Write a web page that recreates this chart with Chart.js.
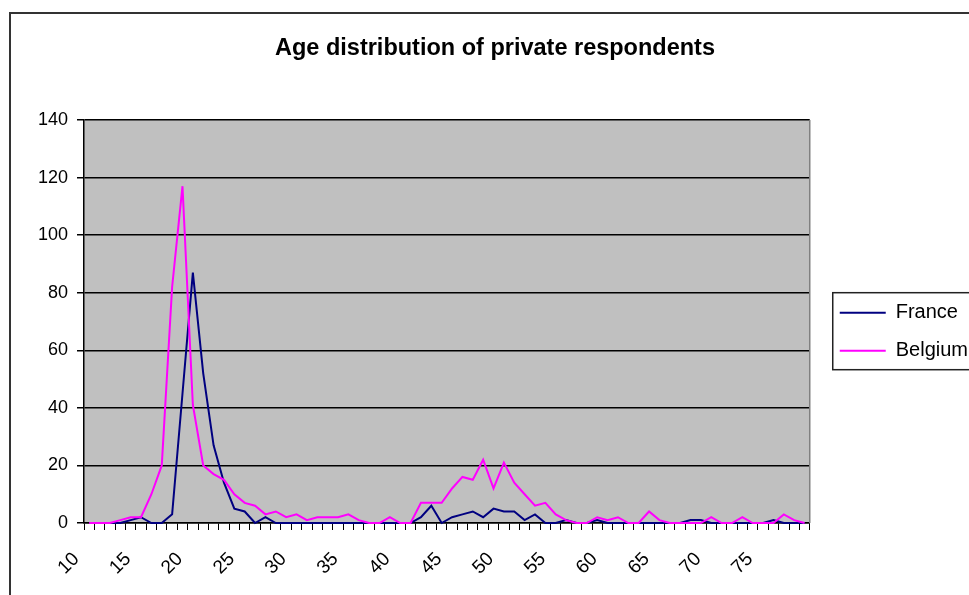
<!DOCTYPE html>
<html>
<head>
<meta charset="utf-8">
<title>Age distribution of private respondents</title>
<script src="https://cdn.jsdelivr.net/npm/chart.js@4.4.1/dist/chart.umd.min.js"></script>
<style>
    html, body { margin: 0; padding: 0; background: #fff; overflow: hidden; }
    #frame {
        position: absolute; left: 9px; top: 12px; width: 1000px; height: 700px;
        border-left: 2px solid #333; border-top: 2px solid #333;
    }
    #wrap { position: absolute; left: 12px; top: 0; width: 966px; height: 595px; }
</style>
</head>
<body>
<div id="frame"></div>
<div id="wrap"><canvas id="ageChart" width="966" height="595"></canvas></div>
<script>
    // ages on the category axis
    var ages = [10, 11, 12, 13, 14, 15, 16, 17, 18, 19,
                20, 21, 22, 23, 24, 25, 26, 27, 28, 29,
                30, 31, 32, 33, 34, 35, 36, 37, 38, 39,
                40, 41, 42, 43, 44, 45, 46, 47, 48, 49,
                50, 51, 52, 53, 54, 55, 56, 57, 58, 59,
                60, 61, 62, 63, 64, 65, 66, 67, 68, 69,
                70, 71, 72, 73, 74, 75, 76, 77, 78, 79];

    // number of respondents per age
    var france = [0, 0, 0, 0, 1, 2, 0, 0, 3, 45,
                  87, 52, 27, 14, 5, 4, 0, 2, 0, 0,
                  0, 0, 0, 0, 0, 0, 0, 0, 0, 0,
                  0, 0, 2, 6, 0, 2, 3, 4, 2, 5,
                  4, 4, 1, 3, 0, 0, 1, 0, 0, 1,
                  0, 0, 0, 0, 0, 0, 0, 0, 1, 1,
                  0, 0, 0, 0, 0, 0, 1, 0, 0, 0];

    var belgium = [0, 0, 0, 1, 2, 2, 10, 20, 82, 117,
                   41, 20, 17, 15, 10, 7, 6, 3, 4, 2,
                   3, 1, 2, 2, 2, 3, 1, 0, 0, 2,
                   0, 0, 7, 7, 7, 12, 16, 15, 22, 12,
                   21, 14, 10, 6, 7, 3, 1, 0, 0, 2,
                   1, 2, 0, 0, 4, 1, 0, 0, 0, 0,
                   2, 0, 0, 2, 0, 0, 0, 3, 1, 0];

    var seriesNames = ['France', 'Belgium'];
    var seriesColors = ['#000080', '#FF00FF'];

    var yMin = 0;
    var yMax = 140;
    var yStep = 20;
    var labelEvery = 5;

    var fontFamily = "'Liberation Sans', Arial, Helvetica, sans-serif";

    // grey plot background, grey right edge and the box round the legend
    var plotDecor = {
        id: 'plotDecor',
        beforeDraw: function(chart) {
            var a = chart.chartArea;
            var ctx = chart.ctx;
            ctx.save();
            ctx.fillStyle = '#C0C0C0';
            ctx.fillRect(a.left, a.top, a.right - a.left, a.bottom - a.top);
            ctx.restore();
        },
        afterDraw: function(chart) {
            var a = chart.chartArea;
            var ctx = chart.ctx;
            ctx.save();
            ctx.strokeStyle = '#808080';
            ctx.lineWidth = 1.5;
            ctx.beginPath();
            ctx.moveTo(a.right, a.top);
            ctx.lineTo(a.right, a.bottom);
            ctx.stroke();

            var hb = chart.legend.legendHitBoxes;
            if (hb && hb.length) {
                var first = hb[0], last = hb[hb.length - 1];
                var top = first.top - 10;
                var bottom = last.top + last.height + 9;
                ctx.strokeStyle = '#222';
                ctx.lineWidth = 1.5;
                ctx.strokeRect(first.left - 7, top, chart.width, bottom - top);
            }
            ctx.restore();
        }
    };

    var ctx = document.getElementById('ageChart').getContext('2d');
    var ageChart = new Chart(ctx, {
        type: 'line',
        data: {
            labels: ages,
            datasets: [{
                label: seriesNames[0],
                data: france,
                borderColor: seriesColors[0],
                backgroundColor: seriesColors[0],
                borderWidth: 2,
                pointRadius: 0,
                tension: 0,
                clip: false,
                order: 1
            }, {
                label: seriesNames[1],
                data: belgium,
                borderColor: seriesColors[1],
                backgroundColor: seriesColors[1],
                borderWidth: 2,
                pointRadius: 0,
                tension: 0,
                clip: false,
                order: 0
            }]
        },
        options: {
            responsive: false,
            animation: false,
            layout: { padding: 0 },
            plugins: {
                title: {
                    display: true,
                    text: 'Age distribution of private respondents',
                    color: '#000',
                    font: { family: fontFamily, size: 23.5, weight: 'bold' },
                    padding: { top: 34, bottom: 57.8 }
                },
                legend: {
                    position: 'right',
                    fullSize: false,
                    title: { display: true, text: '', font: { size: 12 }, padding: 3 },
                    labels: {
                        color: '#000',
                        font: { family: fontFamily, size: 20 },
                        usePointStyle: true,
                        pointStyle: 'line',
                        pointStyleWidth: 46,
                        padding: 18,
                        sort: function(a, b) { return a.datasetIndex - b.datasetIndex; }
                    }
                },
                tooltip: { enabled: false }
            },
            scales: {
                x: {
                    offset: true,
                    grid: {
                        offset: true,
                        drawOnChartArea: false,
                        drawTicks: true,
                        tickLength: 7,
                        color: '#000',
                        lineWidth: 1
                    },
                    border: { color: '#000', width: 1.5 },
                    ticks: {
                        autoSkip: false,
                        minRotation: 45,
                        maxRotation: 45,
                        labelOffset: -13,
                        padding: 18,
                        color: '#000',
                        font: { family: fontFamily, size: 19 },
                        callback: function(value, index) {
                            var a = ages[index];
                            return a % labelEvery === 0 ? String(a) : '';
                        }
                    },
                    afterFit: function(scale) { scale.height = 72; }
                },
                y: {
                    min: yMin,
                    max: yMax,
                    grid: {
                        color: '#000',
                        lineWidth: 1.5,
                        tickLength: 7,
                        drawTicks: true
                    },
                    border: { color: '#000', width: 1.5 },
                    ticks: {
                        stepSize: yStep,
                        padding: 9,
                        color: '#000',
                        font: { family: fontFamily, size: 18 }
                    },
                    afterFit: function(scale) { scale.width = 72; }
                },
                // narrow gap between the plot and the legend
                gap: {
                    position: 'right',
                    display: true,
                    grid: { display: false, drawTicks: false },
                    border: { display: false },
                    ticks: { display: false },
                    afterFit: function(scale) { scale.width = 12; }
                }
            }
        },
        plugins: [plotDecor]
    });
</script>
</body>
</html>
